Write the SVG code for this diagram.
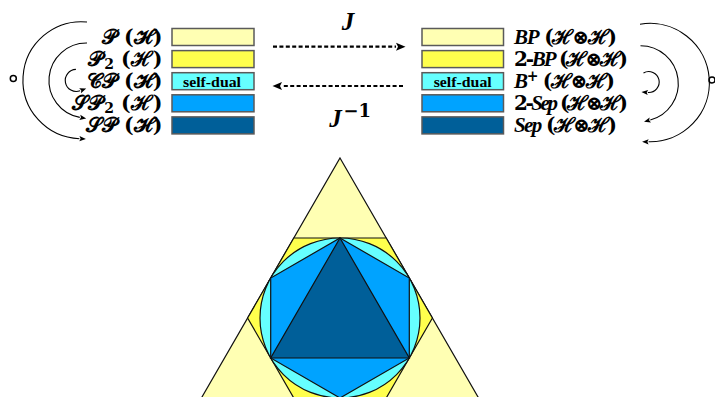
<svg xmlns="http://www.w3.org/2000/svg" width="715" height="397" viewBox="0 0 715 397">
<style>
.lbl{font-family:"DejaVu Serif","Liberation Serif",serif;font-size:20px;font-weight:bold;fill:#000}
.ll{font-family:"DejaVu Serif","Liberation Serif",serif;font-size:20.5px;font-weight:bold;fill:#000;text-anchor:end}
.it{font-style:italic;font-family:"Liberation Serif",serif;font-size:21px}
.sd{font-family:"Liberation Serif",serif;font-size:15px;font-weight:bold;text-anchor:middle;fill:#000}
.box{stroke:#5a5a5a;stroke-width:1.5}
.c1{fill:#FFFFB3}.c2{fill:#FFFF4D}.c3{fill:#66FFFF}.c4{fill:#00A3FF}.c5{fill:#005F99}
.arc{fill:none;stroke:#000;stroke-width:1.1}
.dash{fill:none;stroke:#000;stroke-width:2.2;stroke-dasharray:4 2.4}
.geo{stroke:#111;stroke-width:1.2;stroke-linejoin:miter}
</style>
<defs>
<marker id="ah" markerUnits="userSpaceOnUse" markerWidth="10" markerHeight="8" viewBox="0 -4 8 8" refX="0" refY="0" orient="auto">
<path d="M0,-2.6 L6.5,0 L0,2.6 L1.2,0 z" fill="#000"/>
</marker>
<marker id="ah2" markerUnits="userSpaceOnUse" markerWidth="12" markerHeight="10" viewBox="0 -5 10 10" refX="0" refY="0" orient="auto">
<path d="M0,-4 L9.5,0 L0,4 L2,0 z" fill="#000"/>
</marker>
</defs>

<g id="left-nodes">
<g id="node-P"><text class="ll" x="162.5" y="43.7">𝒫 (ℋ)</text><rect class="box c1" x="172" y="28.5" width="82" height="17"/></g>
<g id="node-P2"><text class="ll" x="162.5" y="65.8">𝒫<tspan font-size="14" dx="1" dy="3">2</tspan><tspan dy="-3"> (ℋ)</tspan></text><rect class="box c2" x="172" y="50.6" width="82" height="17"/></g>
<g id="node-CP"><text class="ll" x="162.5" y="87.9">𝒞𝒫 (ℋ)</text><rect class="box c3" x="172" y="72.7" width="82" height="17"/><text class="sd" x="212" y="86.5" textLength="58" lengthAdjust="spacingAndGlyphs">self-dual</text></g>
<g id="node-SP2"><text class="ll" x="162.5" y="110">𝒮𝒫<tspan font-size="14" dx="1" dy="3">2</tspan><tspan dy="-3"> (ℋ)</tspan></text><rect class="box c4" x="172" y="94.8" width="82" height="17"/></g>
<g id="node-SP"><text class="ll" x="162.5" y="132.1">𝒮𝒫 (ℋ)</text><rect class="box c5" x="172" y="116.9" width="82" height="17"/></g>
</g>

<g id="right-nodes">
<g id="node-BP"><rect class="box c1" x="422" y="28.5" width="81.5" height="17"/><text class="lbl" x="514" y="43.7" textLength="103" lengthAdjust="spacing"><tspan class="it">BP</tspan> (ℋ⊗ℋ)</text></g>
<g id="node-2BP"><rect class="box c2" x="422" y="50.6" width="81.5" height="17"/><text class="lbl" x="514" y="65.8" textLength="114" lengthAdjust="spacing">2-<tspan class="it">BP</tspan> (ℋ⊗ℋ)</text></g>
<g id="node-Bplus"><rect class="box c3" x="422" y="72.7" width="81.5" height="17"/><text class="sd" x="462.7" y="86.5" textLength="58" lengthAdjust="spacingAndGlyphs">self-dual</text><text class="lbl" x="514" y="87.9" textLength="101" lengthAdjust="spacing"><tspan class="it">B</tspan><tspan font-size="14" dy="-7">+</tspan><tspan dy="7"> (ℋ⊗ℋ)</tspan></text></g>
<g id="node-2Sep"><rect class="box c4" x="422" y="94.8" width="81.5" height="17"/><text class="lbl" x="514" y="110" textLength="114" lengthAdjust="spacing">2-<tspan class="it">Sep</tspan> (ℋ⊗ℋ)</text></g>
<g id="node-Sep"><rect class="box c5" x="422" y="116.9" width="81.5" height="17"/><text class="lbl" x="514" y="132.1" textLength="103" lengthAdjust="spacing"><tspan class="it">Sep</tspan> (ℋ⊗ℋ)</text></g>
</g>

<g id="composition-marks" fill="none" stroke="#000" stroke-width="1.5">
<circle cx="13.3" cy="78.5" r="3"/>
<circle cx="712" cy="80" r="3"/>
</g>

<g id="connectors">
<path class="arc" d="M87,22 A58.5,58.5 0 1 0 79.4,138.7" marker-end="url(#ah)"/>
<path class="arc" d="M87,43 A37.5,37.5 0 0 0 79.8,117.4" marker-end="url(#ah)"/>
<path class="arc" d="M75.9,69.4 A11,11 0 1 0 80.1,90.7" marker-end="url(#ah)"/>
<path class="arc" d="M640,24.3 A59.2,59.2 0 1 1 648.6,141.8" marker-end="url(#ah)"/>
<path class="arc" d="M640.5,45.7 A37.8,37.8 0 0 1 650.3,120" marker-end="url(#ah)"/>
<path class="arc" d="M643.5,72.9 A10.5,10.5 0 1 1 647.9,92.5" marker-end="url(#ah)"/>
<path class="dash" d="M273,46.7 H396" marker-end="url(#ah2)"/>
<path class="dash" d="M403,86 H282" marker-end="url(#ah2)"/>
<text x="348" y="30" text-anchor="middle" font-family="Liberation Serif,serif" font-style="italic" font-weight="bold" font-size="25">J</text>
<text x="335.5" y="127" text-anchor="middle" font-family="Liberation Serif,serif" font-style="italic" font-weight="bold" font-size="25">J</text>
<text x="343.5" y="117" font-family="DejaVu Serif,serif" font-weight="bold" font-size="18">−1</text>
</g>

<g id="geometry">
<polygon class="geo c1" points="340,158 478.6,398 201.4,398"/>
<polygon class="geo c2" points="293.8,238 386.2,238 432.4,318 386.2,398 293.8,398 247.6,318"/>
<circle class="geo c3" cx="340" cy="318" r="80"/>
<polygon class="geo c4" points="340,238 409.3,278 409.3,358 340,398 270.7,358 270.7,278"/>
<polygon class="geo c5" points="340,238 409.3,358 270.7,358"/>
</g>
</svg>
